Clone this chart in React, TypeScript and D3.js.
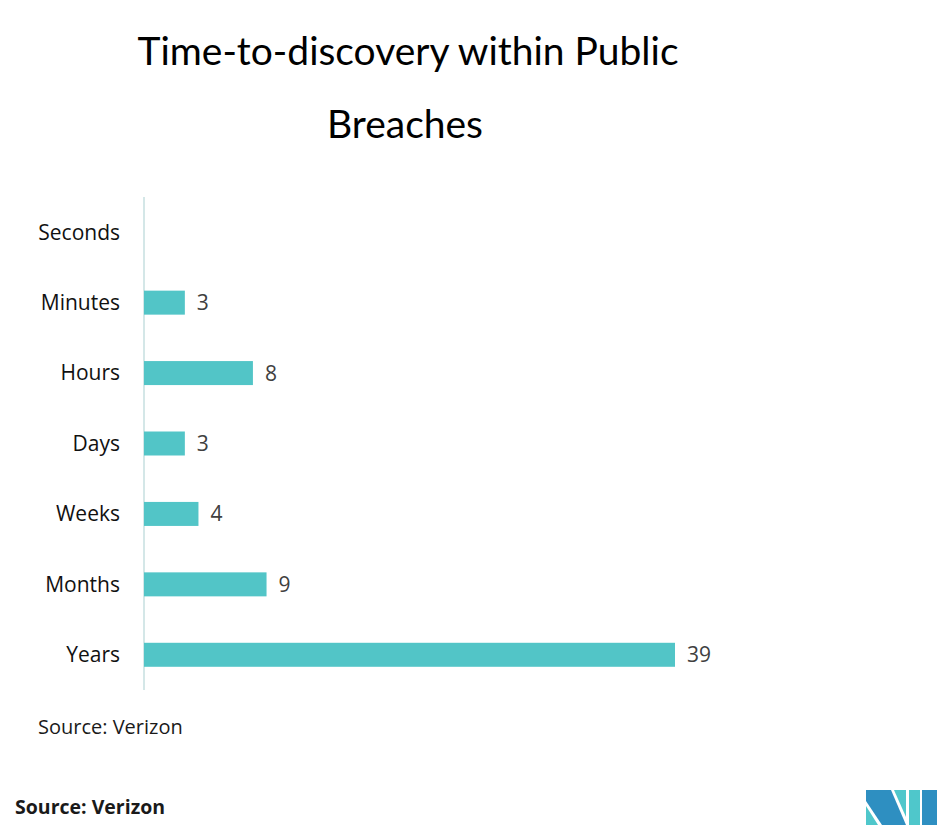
import * as d3 from "d3"

const categories = ["Seconds", "Minutes", "Hours", "Days", "Weeks", "Months", "Years"]
const values: (number | null)[] = [null, 3, 8, 3, 4, 9, 39]

const W = 940
const H = 836
const axisX = 144
const top = 197
const bottom = 690

export default function App() {
  const y = d3.scaleBand<string>().domain(categories).range([top, bottom]).paddingInner(0.66).paddingOuter(0.33)
  const x = d3.scaleLinear().domain([0, 39]).range([axisX, 675])
  const bh = 24

  return (
    <svg width={W} height={H} style={{ position: "absolute", left: 0, top: 0, background: "#fff" }}>
      <g fontFamily="Lato, 'Open Sans', sans-serif" fontSize={39} fill="#000" textAnchor="middle">
        <text x={408} y={65} textLength={541} lengthAdjust="spacingAndGlyphs">Time-to-discovery within Public</text>
        <text x={405} y={138}>Breaches</text>
      </g>
      <line x1={axisX} x2={axisX} y1={top} y2={bottom} stroke="#a9cfd0" strokeWidth={1} />
      {categories.map((c, i) => {
        const cy = (y(c) ?? 0) + y.bandwidth() / 2
        const v = values[i]
        return (
          <g key={c}>
            <text x={120} y={cy} dy="0.35em" textAnchor="end" fontFamily="'Open Sans', sans-serif" fontSize={21} fill="#111">{c}</text>
            {v != null && (
              <>
                <rect x={x(0)} y={cy - bh / 2} width={x(v) - x(0)} height={bh} fill="#52c5c7" />
                <text x={x(v) + 12} y={cy} dy="0.36em" fontFamily="'Open Sans', sans-serif" fontSize={21} fill="#404040">{v}</text>
              </>
            )}
          </g>
        )
      })}
      <text x={38} y={734} fontFamily="'Open Sans', sans-serif" fontSize={20} fill="#1a1a1a">Source: Verizon</text>
      <text x={15} y={814} fontFamily="'Open Sans', sans-serif" fontSize={19.5} fontWeight="bold" fill="#1a1a1a">Source: Verizon</text>
      <g>
        <polygon points="866,806 866,825 878,825" fill="#4fc7cb" />
        <polygon points="866,790 891,790 906,825 882,825 866,801" fill="#2e8fc1" />
        <polygon points="894,790 906,790 906,817" fill="#4fc7cb" />
        <polygon points="909,790 920,790 920,825 909,825" fill="#4fc7cb" />
        <polygon points="922,790 937,790 937,825 922,825" fill="#2e8fc1" />
      </g>
    </svg>
  )
}
